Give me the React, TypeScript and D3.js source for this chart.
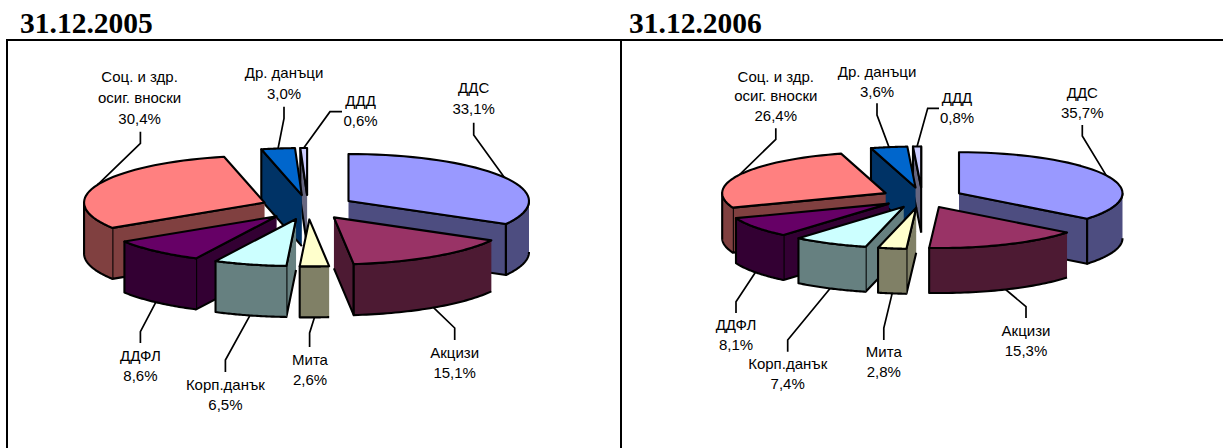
import React from "react";
import * as d3 from "d3";

const categories = ["ДДС", "Акцизи", "Мита", "Корп.данък", "ДДФЛ", "Соц. и здр. осиг. вноски", "Др. данъци", "ДДД"];
const values2005 = [33.1, 15.1, 2.6, 6.5, 8.6, 30.4, 3.0, 0.6];
const values2006 = [35.7, 15.3, 2.8, 7.4, 8.1, 26.4, 3.6, 0.8];
const topColors = ["#9999ff", "#993366", "#ffffcc", "#ccffff", "#660066", "#ff8080", "#0066cc", "#ccccff"];
const wallColors = ["#4d4d80", "#4d1a33", "#808066", "#668080", "#330033", "#804040", "#003366", "#666680"];
const labelLines = [["ДДС"], ["Акцизи"], ["Мита"], ["Корп.данък"], ["ДДФЛ"], ["Соц. и здр.", "осиг. вноски"], ["Др. данъци"], ["ДДД"]];

// label placement: x, y of first line centre, leader elbow x/y, leader end x/y
type Place = { x: number; y: number; step: number; elbow: [number, number]; end: [number, number] };

const places2005: Place[] = [
  { x: 473.7, y: 87.7, step: 21, elbow: [473.7, 135], end: [473.7, 122.7] },
  { x: 454.7, y: 352.7, step: 20, elbow: [454.7, 328], end: [454.7, 340] },
  { x: 310, y: 359, step: 20, elbow: [309.6, 333], end: [309.6, 347] },
  { x: 225.4, y: 384, step: 20.7, elbow: [225.4, 360], end: [225.4, 372] },
  { x: 140.4, y: 355, step: 20.7, elbow: [140.4, 331.7], end: [140.4, 343] },
  { x: 139.6, y: 76, step: 21, elbow: [140.4, 143.3], end: [140.4, 131.7] },
  { x: 284, y: 72.3, step: 20.7, elbow: [284, 118.3], end: [284, 106.7] },
  { x: 360.6, y: 100, step: 20.7, elbow: [330, 111.7], end: [342, 111.7] },
];

const places2006: Place[] = [
  { x: 1082.3, y: 92, step: 20.3, elbow: [1082.3, 136], end: [1082.3, 125] },
  { x: 1026, y: 330, step: 20, elbow: [1026, 306.7], end: [1026, 318] },
  { x: 883.8, y: 351, step: 20, elbow: [883.8, 328], end: [883.8, 340] },
  { x: 787.7, y: 363.3, step: 20, elbow: [787.7, 340], end: [787.7, 351.7] },
  { x: 736, y: 324, step: 20.3, elbow: [736, 301.7], end: [736, 313] },
  { x: 775.8, y: 76, step: 19.7, elbow: [775.8, 139.3], end: [775.8, 128.3] },
  { x: 877, y: 71.3, step: 19.7, elbow: [877, 115], end: [877, 103.3] },
  { x: 957, y: 97.3, step: 19.7, elbow: [927.7, 108.3], end: [939, 108.3] },
];

interface PieProps {
  values: number[];
  places: Place[];
  cx: number;
  cy: number;
  rx: number;
  ry: number;
  depth: number;
  explode: number;
}

const fmt = (v: number) => v.toFixed(1).replace(".", ",") + "%";
const poly = d3.line();

function Pie3D({ values, places, cx, cy, rx, ry, depth, explode }: PieProps) {
  const arcs = d3.pie<number>().sort(null).startAngle(0).endAngle(2 * Math.PI)(values);

  const slices = arcs.map((a, i) => {
    const mid = (a.startAngle + a.endAngle) / 2;
    const ax = cx + explode * rx * Math.sin(mid);
    const ay = cy - explode * ry * Math.cos(mid);
    const rim = (t: number): [number, number] => [ax + rx * Math.sin(t), ay - ry * Math.cos(t)];
    const sample = (t0: number, t1: number) =>
      d3.range(0, 41).map((k) => rim(t0 + ((t1 - t0) * k) / 40));
    const down = (p: [number, number]): [number, number] => [p[0], p[1] + depth];

    const faces: string[] = [];
    const apex: [number, number] = [ax, ay];
    // radial cut faces, only those turned towards the viewer
    if (Math.sin(a.startAngle) < 0) {
      const p = rim(a.startAngle);
      faces.push(poly([apex, p, down(p), down(apex)])!);
    }
    if (Math.sin(a.endAngle) > 0) {
      const p = rim(a.endAngle);
      faces.push(poly([apex, p, down(p), down(apex)])!);
    }
    // outer wall on the front half
    const w0 = Math.max(a.startAngle, Math.PI / 2);
    const w1 = Math.min(a.endAngle, (3 * Math.PI) / 2);
    if (w1 > w0) {
      const edge = sample(w0, w1);
      faces.push(poly([...edge, ...edge.map(down).reverse()])!);
    }
    const top = poly([apex, ...sample(a.startAngle, a.endAngle)])! + "Z";
    const front = Math.cos(mid) < 0;
    const tip = front ? down(rim(mid)) : rim(mid);
    return { i, mid, faces, top, tip };
  });

  // painter's order, far slices first
  const ordered = [...slices].sort((p, q) => d3.descending(Math.cos(p.mid), Math.cos(q.mid)));

  return (
    <g>
      {places.map((p, i) => (
        <polyline
          key={i}
          points={[slices[i].tip, p.elbow, p.end].map((d) => d.join(",")).join(" ")}
          fill="none"
          stroke="#000"
          strokeWidth={1.7}
        />
      ))}
      {ordered.map((s) => (
        <g key={s.i} stroke="#000" strokeWidth={2.1} strokeLinejoin="round">
          {s.faces.map((d, k) => (
            <path key={k} d={d} fill={wallColors[s.i]} />
          ))}
          <path d={s.top} fill={topColors[s.i]} />
        </g>
      ))}
      {places.map((p, i) => {
        const lines = [...labelLines[i], fmt(values[i])];
        return (
          <g key={categories[i]} textAnchor="middle" fontFamily="'Liberation Sans', Arial, sans-serif" fontSize={15} fill="#000">
            {lines.map((t, k) => (
              <text key={k} x={p.x} y={p.y + k * p.step} dominantBaseline="central">
                {t}
              </text>
            ))}
          </g>
        );
      })}
    </g>
  );
}

export default function App() {
  return (
    <svg width={1223} height={448} style={{ position: "absolute", left: 0, top: 0, background: "#fff" }}>
      <g fontFamily="'Liberation Serif', 'Times New Roman', serif" fontWeight={700} fontSize={29.5}>
        <text x={20} y={33}>31.12.2005</text>
        <text x={629} y={33}>31.12.2006</text>
      </g>
      <line x1={6} x2={1223} y1={40} y2={40} stroke="#000" strokeWidth={2} />
      <line x1={7} x2={7} y1={40} y2={448} stroke="#000" strokeWidth={2} />
      <line x1={621} x2={621} y1={40} y2={448} stroke="#000" strokeWidth={2} />
      <Pie3D values={values2005} places={places2005} cx={308} cy={207.2} rx={180.5} ry={47} depth={51} explode={0.26} />
      <Pie3D values={values2006} places={places2006} cx={922.2} cy={197.7} rx={163.5} ry={41} depth={45} explode={0.25} />
    </svg>
  );
}
